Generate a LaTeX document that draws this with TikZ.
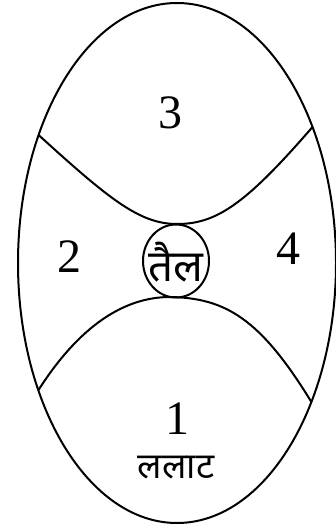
\documentclass[tikz,border=0pt]{standalone}
\usepackage{fontspec}
\usetikzlibrary{shapes.geometric}
\setmainfont{Liberation Serif}
\newfontfamily\deva[Script=Devanagari]{Noto Sans}
\begin{document}
\begin{tikzpicture}[x=1pt,y=-1pt,
  outline/.style={line width=2pt,black},
  digit/.style={font=\fontsize{48}{48}\selectfont,inner sep=0pt},
  hindi/.style={font=\deva\fontsize{36}{36}\selectfont,inner sep=0pt},
  bighindi/.style={font=\deva\fontsize{44}{44}\selectfont,inner sep=0pt}]
\useasboundingbox (0,0) rectangle (336,529);
\coordinate (c) at (177,263);
\draw[outline] (c) ellipse [x radius=159, y radius=260];
\coordinate (ul) at (38.6,135);
\coordinate (ur) at (312.5,127);
\coordinate (ut) at (177,224);
\coordinate (ll) at (38.5,390);
\coordinate (lr) at (311.4,402);
\coordinate (lt) at (170,297);
\draw[outline] (ul) .. controls (110,200) and (140,224) .. (ut)
  .. controls (216,224) and (245,205) .. (ur);
\draw[outline] (ll) .. controls (80,325) and (125,297) .. (lt)
  .. controls (225,298) and (260,318) .. (lr);
\node[outline,draw,ellipse,minimum width=66pt,minimum height=73pt,inner sep=0pt] (oil) at (176,261) {};
\node[bighindi] (oiltext) at (176,262) {तैल};
\node[digit] (n3) at (170,113) {3};
\node[digit] (n2) at (69,257) {2};
\node[digit] (n4) at (288,249) {4};
\node[digit] (n1) at (177,419) {1};
\node[hindi] (lalat) at (176,468) {ललाट};
\end{tikzpicture}
\end{document}
